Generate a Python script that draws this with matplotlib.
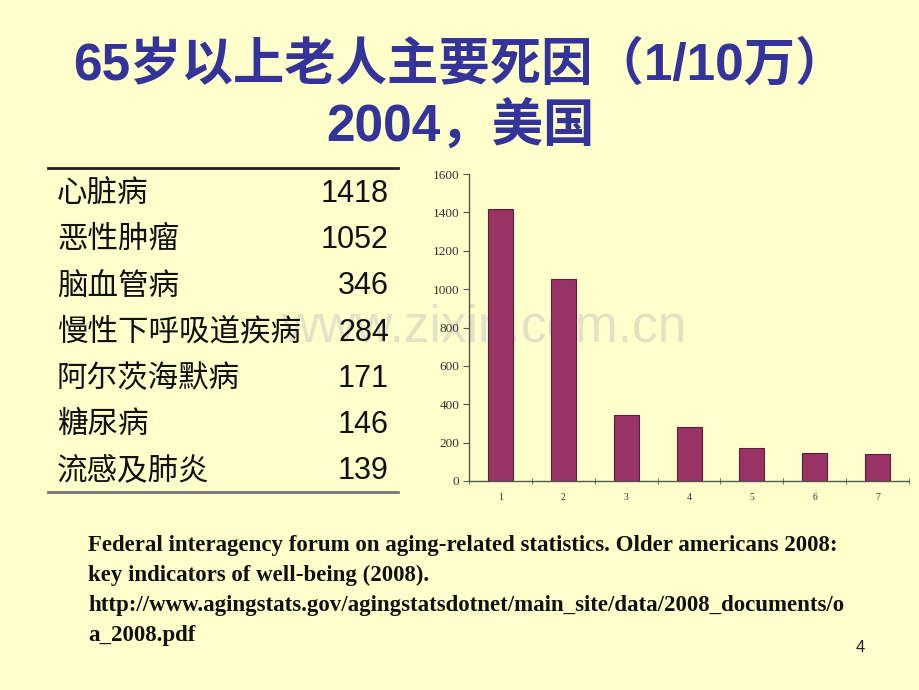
import numpy as np
import matplotlib
matplotlib.use('Agg')
from matplotlib import pyplot as plt

plt.rcParams['font.family'] = ['Liberation Sans', 'Noto Sans CJK SC', 'DejaVu Sans']

causes = ['心脏病', '恶性肿瘤', '脑血管病', '慢性下呼吸道疾病', '阿尔茨海默病', '糖尿病', '流感及肺炎']
rates = [1418, 1052, 346, 284, 171, 146, 139]
ranks = ['1', '2', '3', '4', '5', '6', '7']
yticks = [0, 200, 400, 600, 800, 1000, 1200, 1400, 1600]

bg = '#FFFFCC'
fig = plt.figure(figsize=(9.2, 6.9), dpi=100, facecolor=bg)

# title
fig.text(0.5, 0.905, '65岁以上老人主要死因（1/10万）', ha='center', va='center',
         fontsize=37, fontweight='bold', color='#33339A')
fig.text(0.5, 0.818, '2004，美国', ha='center', va='center',
         fontsize=37, fontweight='bold', color='#33339A')

# watermark (behind everything)
fig.text(0.526, 0.525, 'www.zixin.com.cn', ha='center', va='center',
         fontsize=37, color='#E2E2C6', zorder=-1)

# table on the left
tab = fig.add_axes([0, 0, 1, 1], facecolor='none')
tab.set_xlim(0, 920)
tab.set_ylim(690, 0)
tab.axis('off')
tab.plot([48, 398], [168, 168], color='#222222', lw=2)
tab.plot([48, 398], [492, 492], color='#777777', lw=2)
for i, (c, r) in enumerate(zip(causes, rates)):
    y = 194 + i * 46.2
    tab.text(57, y, c, ha='left', va='center', fontsize=22, fontweight='medium', color='#111111')
    tab.text(389, y, str(r), ha='right', va='center', fontsize=22, color='#111111')

# bar chart
ax = fig.add_axes([0.510, 0.3029, 0.478, 0.4449], facecolor='none')
x = np.arange(len(rates))
ax.bar(x, rates, width=0.4, color='#993366', edgecolor='#5A1E3C', linewidth=0.8)
ax.set_xlim(-0.5, 6.5)
ax.set_ylim(0, 1600)
ax.set_yticks(yticks)
ax.set_yticklabels([str(v) for v in yticks], family='Liberation Serif', fontsize=9.5, color='#333333')
ax.set_xticks(x)
ax.set_xticklabels(ranks, family='Liberation Serif', fontsize=7, color='#333333')
ax.set_xticks(np.arange(-0.5, 7, 1), minor=True)
ax.tick_params(axis='x', which='major', length=0, pad=9)
ax.tick_params(axis='x', which='minor', length=4, direction='inout', color='#555555')
ax.tick_params(axis='y', length=4, direction='out', color='#555555', pad=3)
for s in ['top', 'right']:
    ax.spines[s].set_visible(False)
for s in ['left', 'bottom']:
    ax.spines[s].set_color('#555555')
    ax.spines[s].set_linewidth(1)

# citation
cite = ['Federal interagency forum on aging-related statistics. Older americans 2008:',
        'key indicators of well-being (2008).',
        'http://www.agingstats.gov/agingstatsdotnet/main_site/data/2008_documents/o',
        'a_2008.pdf']
for i, line in enumerate(cite):
    fig.text(88 / 920, 1 - (545 + i * 30) / 690, line, ha='left', va='center',
             family='Liberation Serif', fontweight='bold', fontsize=16.5, color='#111111')

fig.text(860 / 920, 1 - 648 / 690, '4', ha='center', va='center', fontsize=12, color='#222222')

fig.savefig('out.png', dpi=100, facecolor=bg)
